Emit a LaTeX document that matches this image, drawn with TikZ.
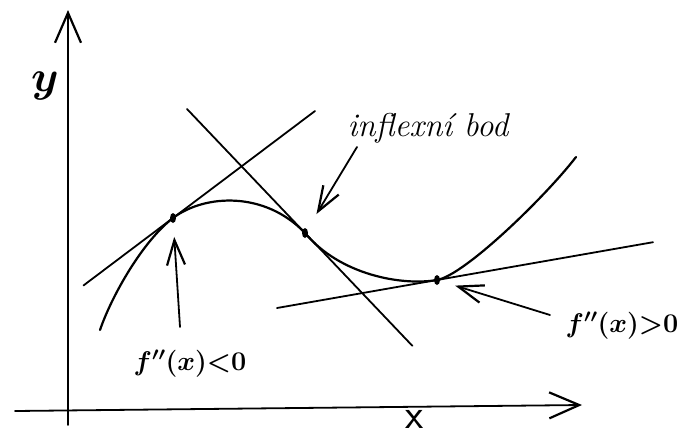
\documentclass[tikz,border=0pt]{standalone}
\usepackage{fix-cm}
\usepackage{amsmath,amssymb}
\usetikzlibrary{arrows.meta,positioning,calc,shapes.geometric}

\begin{document}
\begin{tikzpicture}[x=1pt,y=-1pt,line width=1.8pt,line cap=round,
 >={Straight Barb[length=25pt,width=18pt,line width=2.2pt]},
 axis/.style={->,>={Straight Barb[length=30pt,width=26pt,line width=2.2pt]}},
 dot/.style={ellipse,fill,inner sep=0pt,minimum width=6pt,minimum height=10pt},
 lbl/.style={font=\fontsize{27}{29}\selectfont\boldmath},note/.style={font=\fontsize{33}{35}\selectfont\itshape}]
\useasboundingbox (0,0) rectangle (691,437);
% axes
\coordinate (ybot) at (68,425); \coordinate (ytop) at (68,10);
\coordinate (xl) at (15,411); \coordinate (xr) at (582,405);
\draw[axis] (ybot)--(ytop);
\draw[axis] (xl)--(xr);
\node[font=\fontsize{44}{44}\selectfont\boldmath] (ylab) at (45,86) {$y$};
\node[font=\fontsize{42}{42}\selectfont\sffamily] (xlab) at (415,419) {x};
% points on the curve
\node[dot] (max) at (173,218) {};
\node[dot] (infl) at (305,233) {};
\node[dot] (min) at (437,280) {};
% the curve
\draw[line width=2.2pt] (100,330) .. controls (112,295) and (143,241) .. (max.center)
 .. controls (205,194) and (265,191) .. (infl.center)
 .. controls (340,275) and (402,286) .. (min.center)
 .. controls (465,275) and (546,196) .. (576,157);
% tangents
\draw ($(315,111)!1.63!(max)$) -- (315,111);
\draw (187,109) -- ($(187,109)!1.91!(infl)$);
\draw (277,308) -- ($(277,308)!2.35!(min)$);
% labels and arrows
\node[lbl] (neg) at (190,364) {$f''(x){<}0$};
\node[lbl] (pos) at (622,326) {$f''(x){>}0$};
\node[note] (bod) at (428,128) {inflexní bod};
\coordinate (negtail) at (180,327);
\coordinate (bodtail) at (357,147);
\coordinate (postail) at (550,315);
\draw[->,shorten >=13pt] (negtail) -- (max);
\draw[->,shorten >=17pt] (bodtail) -- (infl);
\draw[->,shorten >=15pt] (postail) -- (min);
\end{tikzpicture}
\end{document}
